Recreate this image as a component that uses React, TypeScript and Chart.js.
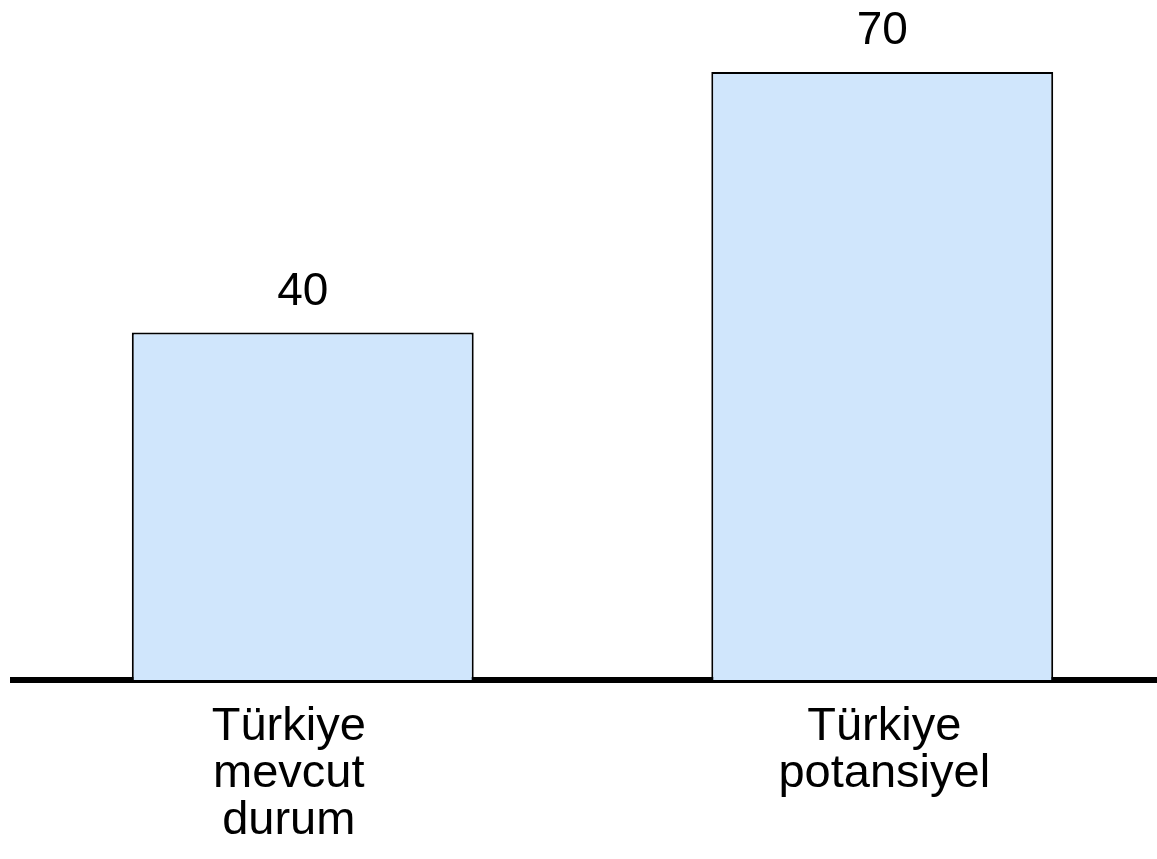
import React, { useEffect, useRef } from "react";
import { Chart, registerables } from "chart.js";

Chart.register(...registerables);

const categories: string[][] = [
  ["Türkiye", "mevcut", "durum"],
  ["Türkiye", "potansiyel"],
];
const values: number[] = [40, 70];

// horizontal nudge of each category label relative to its bar centre (px)
const tickNudge = [-14, 2];

const valueLabelPlugin = {
  id: "valueLabels",
  beforeDraw(chart: any) {
    const xs = chart.scales.x;
    const items = xs.getLabelItems();
    items.forEach((it: any, i: number) => {
      if (it && it.options && it.options.translation && !it._nudged) {
        it.options.translation[0] += tickNudge[i] || 0;
        it._nudged = true;
      }
    });
  },
  afterDatasetsDraw(chart: any) {
    const ctx = chart.ctx;
    const meta = chart.getDatasetMeta(0);
    ctx.save();
    ctx.fillStyle = "#000";
    ctx.font = '46px "Liberation Sans", Arial, sans-serif';
    ctx.textAlign = "center";
    ctx.textBaseline = "alphabetic";
    meta.data.forEach((bar: any, i: number) => {
      ctx.fillText(String(values[i]), bar.x, bar.y - 28);
    });
    ctx.restore();
  },
};

export default function App() {
  const ref = useRef<HTMLCanvasElement | null>(null);
  useEffect(() => {
    if (!ref.current) return;
    const chart = new Chart(ref.current, {
      type: "bar",
      data: {
        labels: categories,
        datasets: [
          {
            data: values,
            backgroundColor: "#D0E6FC",
            borderColor: "#000",
            borderWidth: 2,
            barPercentage: 0.59,
            categoryPercentage: 1,
          },
        ],
      },
      options: {
        responsive: false,
        animation: false,
        devicePixelRatio: 1,
        layout: { padding: { left: 13, right: 8, top: 0, bottom: 0 } },
        plugins: { legend: { display: false }, tooltip: { enabled: false } },
        scales: {
          y: { display: false, min: 0, max: 78.3 },
          x: {
            afterFit: (scale: any) => {
              scale.height = 179;
            },
            grid: { display: false, drawTicks: false },
            border: { display: true, width: 6, color: "#000" },
            ticks: {
              color: "#000",
              padding: 24,
              maxRotation: 0,
              autoSkip: false,
              font: { family: '"Liberation Sans", Arial, sans-serif', size: 47, lineHeight: 1.0 },
            },
          },
        },
      },
      plugins: [valueLabelPlugin],
    });
    return () => chart.destroy();
  }, []);
  return (
    <div style={{ position: "absolute", left: 0, top: 0, width: 1157, height: 859, overflow: "hidden", background: "#fff" }}>
      <canvas ref={ref} width={1180} height={859} style={{ display: "block", width: 1180, height: 859 }} />
    </div>
  );
}
